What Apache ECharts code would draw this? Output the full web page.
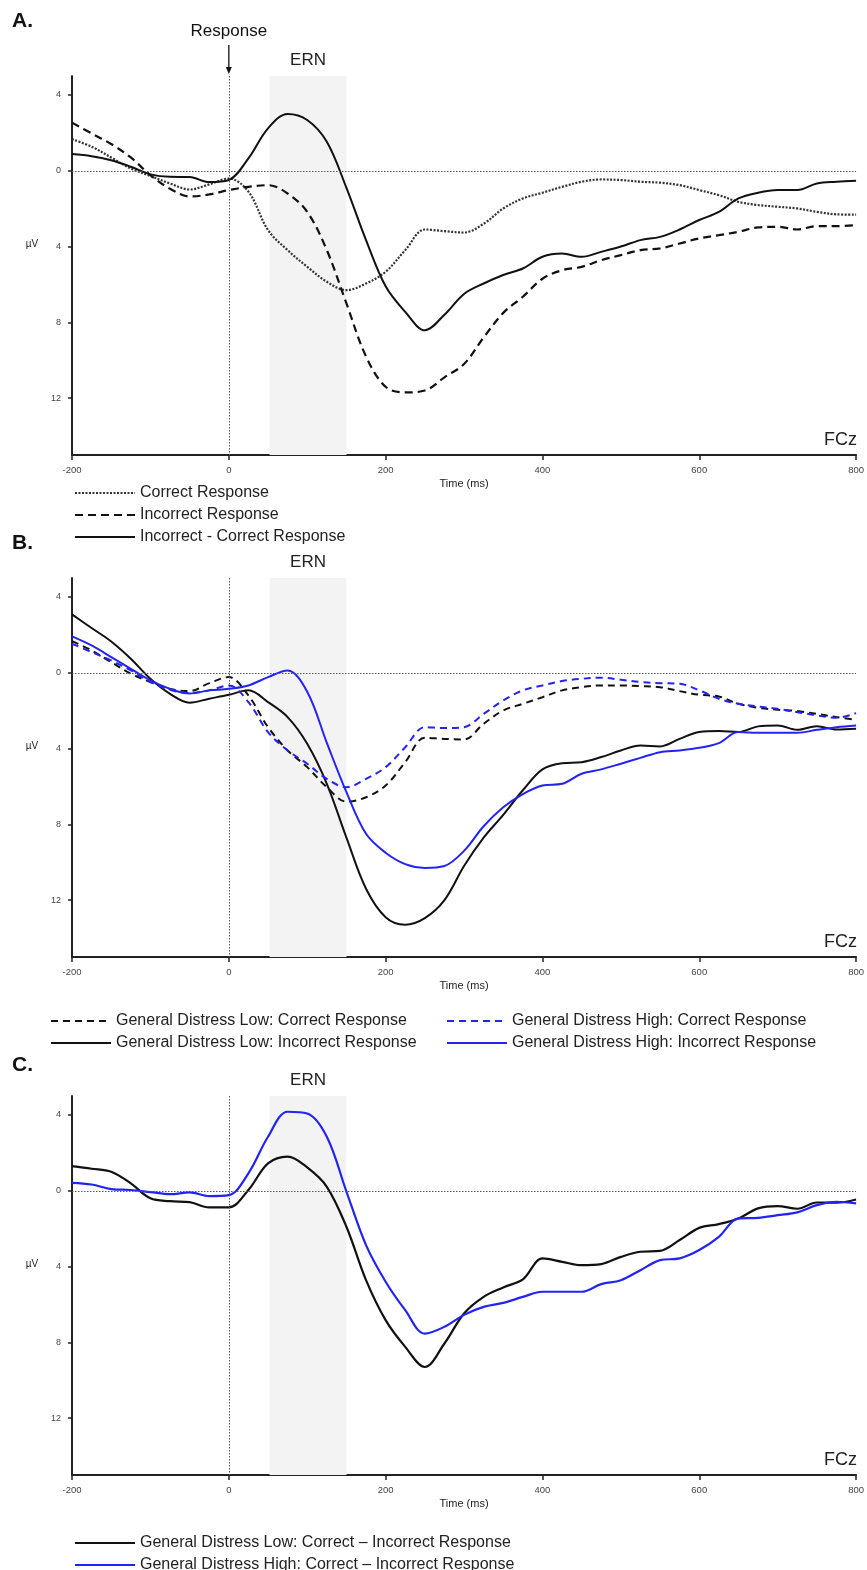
<!DOCTYPE html>
<html>
<head>
<meta charset="utf-8">
<script src="https://cdn.jsdelivr.net/npm/echarts@6/dist/echarts.min.js"></script>
<style>
html,body{margin:0;padding:0;background:#fff}
#main{width:867px;height:1570px}
</style>
</head>
<body>
<div id="main"></div>
<script>
// time points (ms), every 25 ms
var times = [-200,-175,-150,-125,-100,-75,-50,-25,0,25,50,75,100,125,150,175,200,225,250,275,300,
  325,350,375,400,425,450,475,500,525,550,575,600,625,650,675,700,725,750,775,800]
var ernWindow = [52, 150]
var yTicks = [-4, 0, 4, 8, 12]

// panel A (uV, negative plotted up)
var aCorrect = [-1.67,-1.27,-0.7,-0.12,0.28,0.67,0.99,0.72,0.41,1.1,3.13,4.19,5.07,5.86,6.3,5.95,5.33,4.19,3.1,3.19,3.26,
  2.8,1.99,1.46,1.16,0.85,0.58,0.46,0.49,0.58,0.63,0.76,1.02,1.29,1.64,1.81,1.9,1.99,2.17,2.3,2.32]
var aIncorrect = [-2.54,-1.97,-1.41,-0.7,0.23,0.95,1.36,1.25,1.02,0.85,0.76,1.2,2.17,4.19,7.0,9.8,11.4,11.7,11.6,10.9,10.2,
  8.8,7.5,6.65,5.7,5.25,5.07,4.72,4.45,4.19,4.1,3.84,3.57,3.4,3.22,2.99,2.96,3.1,2.92,2.92,2.87]
var aDiff = [-0.88,-0.77,-0.55,-0.21,0.19,0.32,0.33,0.6,0.49,-0.65,-2.24,-3.0,-2.68,-1.53,0.9,3.66,6.1,7.45,8.42,7.6,6.5,
  5.95,5.5,5.16,4.54,4.37,4.54,4.28,4.0,3.66,3.49,3.1,2.6,2.17,1.46,1.16,1.02,1.02,0.67,0.58,0.53]

// panel B
var bLowCorrect = [-1.67,-1.18,-0.56,0.05,0.49,0.85,0.97,0.55,0.23,1.2,2.87,4.1,4.98,6.04,6.8,6.57,5.95,4.72,3.43,3.49,3.52,
  2.69,1.99,1.64,1.29,0.93,0.76,0.67,0.67,0.7,0.76,0.97,1.16,1.25,1.64,1.85,1.95,2.02,2.17,2.34,2.48]
var bLowIncorrect = [-3.08,-2.36,-1.65,-0.74,0.32,1.11,1.58,1.37,1.16,0.93,1.55,2.34,3.75,5.86,8.7,11.4,12.9,13.3,12.95,12.0,10.2,
  8.7,7.5,6.2,5.1,4.77,4.72,4.45,4.1,3.84,3.89,3.49,3.13,3.08,3.13,2.83,2.78,3.01,2.82,3.0,2.96]
var bHighCorrect = [-1.53,-1.09,-0.65,-0.12,0.49,0.9,1.07,0.93,0.67,1.55,3.13,4.1,4.8,5.6,6.04,5.6,4.98,3.93,2.87,2.92,2.87,
  2.17,1.46,0.93,0.67,0.44,0.32,0.26,0.37,0.49,0.55,0.58,0.93,1.37,1.64,1.78,1.9,2.08,2.25,2.38,2.13]
var bHighIncorrect = [-1.92,-1.44,-0.83,-0.21,0.4,0.85,1.1,0.93,0.85,0.67,0.23,-0.12,1.0,3.7,6.3,8.5,9.5,10.1,10.3,10.2,9.4,
  8.1,7.1,6.4,5.95,5.86,5.33,5.1,4.8,4.49,4.19,4.1,3.96,3.71,3.13,3.17,3.17,3.17,3.01,2.87,2.78]

// panel C
var cLow = [-1.3,-1.16,-1.0,-0.39,0.4,0.55,0.6,0.88,0.88,-0.04,-1.44,-1.8,-1.23,-0.21,1.9,4.72,6.83,8.24,9.3,8.06,6.48,
  5.6,5.1,4.68,3.57,3.75,3.93,3.87,3.49,3.22,3.17,2.6,1.96,1.76,1.46,0.93,0.81,0.95,0.62,0.63,0.46]
var cHigh = [-0.42,-0.33,-0.09,-0.04,0.07,0.18,0.09,0.28,0.23,-0.92,-2.85,-4.17,-4.08,-2.85,0.04,2.87,4.8,6.3,7.54,7.18,6.55,
  6.13,5.92,5.6,5.33,5.33,5.33,4.93,4.72,4.19,3.66,3.57,3.13,2.43,1.46,1.43,1.29,1.14,0.76,0.58,0.67]

var FONT = '"Liberation Sans", Arial, sans-serif'
var BLACK = '#111'
var BLUE = '#2424f2'
var tops = [76, 578, 1096]
var H = 379

function makeLine(name, values, idx, color, dash, width) {
  return {
    name: name,
    type: 'line',
    xAxisIndex: idx,
    yAxisIndex: idx,
    data: times.map(function (t, i) { return [t, values[i]] }),
    smooth: 0.35,
    symbol: 'none',
    silent: true,
    z: 3,
    lineStyle: { color: color, type: dash, width: width },
    itemStyle: { color: color }
  }
}

function addMarks(s) {
  s.markArea = {
    silent: true,
    itemStyle: { color: '#f3f3f3' },
    label: { show: true, position: 'top', distance: 7, formatter: 'ERN', fontSize: 17, color: '#222', fontFamily: FONT },
    data: [[{ xAxis: ernWindow[0] }, { xAxis: ernWindow[1] }]]
  }
  s.markLine = {
    silent: true,
    symbol: ['none', 'none'],
    label: { show: false },
    lineStyle: { color: '#555', type: [1.5, 1.5], width: 1 },
    data: [{ yAxis: 0 }, { xAxis: 0 }]
  }
  return s
}

var grids = [], xAxes = [], yAxes = []
for (var i = 0; i < 3; i++) {
  grids.push({ left: 72, top: tops[i], width: 787, height: H })
  xAxes.push({
    type: 'value', gridIndex: i, min: -200, max: 800, interval: 200,
    name: 'Time (ms)', nameLocation: 'middle', nameGap: 23,
    nameTextStyle: { fontSize: 11, color: '#222', fontFamily: FONT },
    axisLine: { onZero: false, lineStyle: { color: '#222', width: 2 } },
    axisTick: { length: 5, lineStyle: { color: '#222', width: 1.5 } },
    axisLabel: { fontSize: 9.5, color: '#444', margin: 10, fontFamily: FONT },
    splitLine: { show: false }
  })
  yAxes.push({
    type: 'value', gridIndex: i, min: -5, max: 15, inverse: true,
    axisLine: { show: true, onZero: false, lineStyle: { color: '#222', width: 2 } },
    axisTick: { show: true, length: 4, customValues: yTicks, lineStyle: { color: '#222', width: 1.5 } },
    axisLabel: {
      fontSize: 9, color: '#444', margin: 11, fontFamily: FONT, customValues: yTicks,
      formatter: function (v) { return Math.abs(v) }
    },
    splitLine: { show: false }
  })
}

var series = [
  addMarks(makeLine('Correct Response', aCorrect, 0, '#333', [2, 1.5], 2.2)),
  makeLine('Incorrect Response', aIncorrect, 0, BLACK, [8, 5], 2.2),
  makeLine('Incorrect - Correct Response', aDiff, 0, BLACK, 'solid', 2),
  addMarks(makeLine('General Distress Low: Correct Response', bLowCorrect, 1, BLACK, [7, 5], 2)),
  makeLine('General Distress Low: Incorrect Response', bLowIncorrect, 1, BLACK, 'solid', 2),
  makeLine('General Distress High: Correct Response', bHighCorrect, 1, BLUE, [7, 5], 2),
  makeLine('General Distress High: Incorrect Response', bHighIncorrect, 1, BLUE, 'solid', 2),
  addMarks(makeLine('General Distress Low: Correct \u2013 Incorrect Response', cLow, 2, BLACK, 'solid', 2.2)),
  makeLine('General Distress High: Correct \u2013 Incorrect Response', cHigh, 2, BLUE, 'solid', 2.2)
]

function legend(left, top, names, w) {
  return {
    left: left, top: top, height: 80, orient: 'vertical', selectedMode: false, padding: 0,
    itemWidth: w, itemHeight: 14, itemGap: 6,
    itemStyle: { opacity: 0 },
    textStyle: { fontSize: 16, color: '#222', fontFamily: FONT },
    data: names
  }
}

var option = {
  animation: false,
  backgroundColor: '#fff',
  grid: grids,
  xAxis: xAxes,
  yAxis: yAxes,
  legend: [
    legend(74, 485, ['Correct Response', 'Incorrect Response', 'Incorrect - Correct Response'], 60),
    legend(50, 1013, ['General Distress Low: Correct Response', 'General Distress Low: Incorrect Response'], 60),
    legend(446, 1013, ['General Distress High: Correct Response', 'General Distress High: Incorrect Response'], 60),
    legend(74, 1535, ['General Distress Low: Correct \u2013 Incorrect Response', 'General Distress High: Correct \u2013 Incorrect Response'], 60)
  ],
  series: series
}

var chart = echarts.init(document.getElementById('main'), null, { renderer: 'canvas' })
chart.setOption(option)

// annotations: panel letters, uV, FCz, response arrow
var g = []
var letters = ['A.', 'B.', 'C.']
var letterTop = [11, 533, 1055]
for (var k = 0; k < 3; k++) {
  g.push({ type: 'text', left: 12, top: letterTop[k],
    style: { text: letters[k], font: 'bold 21px ' + FONT, fill: '#111' } })
  var uvY = chart.convertToPixel({ yAxisIndex: k }, 3.9)
  g.push({ type: 'text', x: 32, y: uvY,
    style: { text: '\u00b5V', font: '10px ' + FONT, fill: '#222', align: 'center', verticalAlign: 'middle' } })
  g.push({ type: 'text', x: 857, y: tops[k] + H - 15,
    style: { text: 'FCz', font: '18px ' + FONT, fill: '#222', align: 'right', verticalAlign: 'middle' } })
}
var x0 = chart.convertToPixel({ xAxisIndex: 0 }, 0)
g.push({ type: 'text', x: x0, y: 31,
  style: { text: 'Response', font: '17px ' + FONT, fill: '#111', align: 'center', verticalAlign: 'middle' } })
g.push({ type: 'line', shape: { x1: x0, y1: 45, x2: x0, y2: 69 }, style: { stroke: '#111', lineWidth: 1.3 } })
g.push({ type: 'polygon', shape: { points: [[x0 - 3, 67], [x0 + 3, 67], [x0, 74]] }, style: { fill: '#111' } })
chart.setOption({ graphic: g })
</script>
</body>
</html>
